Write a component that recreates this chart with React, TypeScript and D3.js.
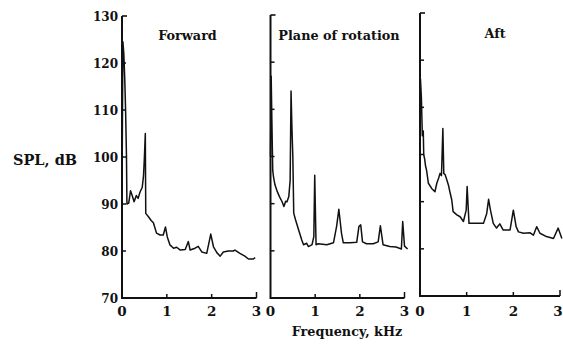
import React from "react";
import * as d3 from "d3";

// ---- data (frequency kHz, SPL dB) ----
const panelTitles = ["Forward", "Plane of rotation", "Aft"];
const yTickValues = [70, 80, 90, 100, 110, 120, 130];
const xTickValues = [0, 1, 2, 3];
const yAxisLabel = "SPL, dB";
const xAxisLabel = "Frequency, kHz";

const forward: [number, number][] = [
  [0, 92], [0.02, 124.5], [0.04, 122], [0.06, 117], [0.08, 110], [0.1, 100], [0.11, 90],
  [0.15, 90.2], [0.19, 92.8], [0.22, 92], [0.27, 90.5], [0.32, 91.8], [0.36, 91.2],
  [0.4, 92.5], [0.45, 93.5], [0.48, 96], [0.5, 100], [0.52, 105], [0.53, 88],
  [0.59, 87.3], [0.65, 86.5], [0.7, 86], [0.77, 83.8], [0.85, 83.4], [0.92, 83.4],
  [0.97, 85.1], [1.01, 83], [1.07, 81.3], [1.15, 80.6], [1.22, 80.8], [1.3, 80.2],
  [1.41, 80.3], [1.48, 82], [1.52, 80.2], [1.63, 80.6], [1.7, 81], [1.78, 79.8],
  [1.89, 79.5], [1.98, 83.6], [2.04, 80.9], [2.12, 79.6], [2.19, 78.9], [2.26, 79.8],
  [2.37, 80], [2.48, 80], [2.52, 80.2], [2.63, 79.5], [2.74, 78.9], [2.82, 78.3],
  [2.93, 78.3], [2.97, 78.6],
];

const planeOfRotation: [number, number][] = [
  [0, 100], [0.015, 117], [0.03, 108], [0.05, 97], [0.07, 95.5], [0.1, 94], [0.15, 92.6],
  [0.2, 91.5], [0.26, 90.4], [0.3, 89.4], [0.34, 90.5], [0.37, 90.4], [0.41, 91.5],
  [0.44, 95], [0.46, 113.9], [0.48, 106], [0.5, 100], [0.52, 88], [0.56, 86.6],
  [0.63, 84.4], [0.7, 82.3], [0.74, 81.3], [0.81, 81.6], [0.85, 80.9], [0.93, 81.3],
  [0.97, 83], [0.99, 96], [1.02, 81.3], [1.07, 81.5], [1.26, 81.3], [1.41, 81.7],
  [1.48, 85.2], [1.53, 88.8], [1.59, 83.7], [1.63, 81.7], [1.78, 81.7], [1.93, 81.8],
  [1.98, 85.2], [2.02, 85.5], [2.06, 81.9], [2.15, 81.5], [2.3, 81.5], [2.41, 81.9],
  [2.46, 85.3], [2.52, 81.3], [2.67, 80.9], [2.81, 80.8], [2.93, 80.4], [2.96, 86.2],
  [3.0, 81], [3.07, 80.4],
];

const aft: [number, number][] = [
  [0, 100], [0.01, 116], [0.03, 112], [0.05, 104], [0.07, 105], [0.08, 100], [0.1, 99],
  [0.12, 97.5], [0.14, 96.7], [0.18, 93.9], [0.25, 92.8], [0.32, 92.1], [0.36, 93.9],
  [0.4, 95], [0.43, 96], [0.46, 95.5], [0.49, 105.5], [0.51, 96], [0.54, 95.7],
  [0.61, 93.5], [0.64, 92.1], [0.68, 90.4], [0.71, 87.9], [0.79, 87.2], [0.86, 86.8],
  [0.93, 85.8], [0.99, 88.2], [1.01, 93.2], [1.05, 85.4], [1.14, 85.4], [1.36, 85.4],
  [1.43, 87.5], [1.47, 90.5], [1.51, 88.2], [1.57, 85.4], [1.64, 84.4], [1.71, 85.3],
  [1.78, 84], [1.93, 84], [2.0, 88.2], [2.06, 84.7], [2.11, 83.6], [2.22, 83.3],
  [2.36, 83.4], [2.43, 82.9], [2.5, 84.7], [2.57, 83.3], [2.71, 82.6], [2.86, 82.2],
  [2.96, 84.4], [3.04, 82.2],
];

const seriesList = [forward, planeOfRotation, aft];

// ---- layout ----
const W = 563;
const H = 346;
const panels = [
  { x0: 122, x1: 256.5, yTop: 16, yBot: 298, titleX: 187.5, titleY: 40 },
  { x0: 270.5, x1: 404.5, yTop: 15, yBot: 298, titleX: 339, titleY: 40 },
  { x0: 420, x1: 560, yTop: 13, yBot: 296, titleX: 495, titleY: 38 },
];
const FONT = "'DejaVu Serif', 'Liberation Serif', serif";
const INK = "#111";

function Panel({ idx }: { idx: number }) {
  const p = panels[idx];
  const x = d3.scaleLinear().domain([0, 3]).range([p.x0, p.x1]);
  const y = d3.scaleLinear().domain([70, 130]).range([p.yBot, p.yTop]);
  const line = d3
    .line<[number, number]>()
    .x((d) => x(d[0]))
    .y((d) => y(d[1]))
    .curve(d3.curveLinear);
  return (
    <g>
      {/* y axis */}
      <line x1={p.x0} x2={p.x0} y1={y(130)} y2={y(70) + 1} stroke={INK} strokeWidth={2} />
      <line x1={p.x0} x2={p.x0 + 5} y1={y(130)} y2={y(130)} stroke={INK} strokeWidth={1.6} />
      {yTickValues.slice(1, -1).map((v) => (
        <line key={v} x1={p.x0} x2={p.x0 + 4} y1={y(v)} y2={y(v)} stroke={INK} strokeWidth={1.5} />
      ))}
      {/* x axis */}
      <line x1={p.x0} x2={x(3)} y1={y(70)} y2={y(70)} stroke={INK} strokeWidth={2} />
      {xTickValues.slice(1).map((v) => (
        <line key={v} x1={x(v)} x2={x(v)} y1={y(70)} y2={y(70) - (v === 3 ? 6 : 4)} stroke={INK} strokeWidth={1.5} />
      ))}
      {/* x tick labels */}
      {xTickValues.map((v) => (
        <text
          key={v}
          x={Math.min(x(v), W - 5)}
          y={316}
          textAnchor="middle"
          fontFamily={FONT}
          fontSize={13.5}
          fontWeight="bold"
          fill={INK}
        >
          {v}
        </text>
      ))}
      {/* y tick labels on first panel */}
      {idx === 0 &&
        yTickValues.map((v) => (
          <text key={v} x={118} y={y(v) + 4.5} textAnchor="end" fontFamily={FONT} fontSize={12} fontWeight="bold" fill={INK}>
            {v}
          </text>
        ))}
      {/* data */}
      <path d={line(seriesList[idx]) || ""} fill="none" stroke={INK} strokeWidth={1.5} strokeLinejoin="round" />
      {/* title */}
      <text x={p.titleX} y={p.titleY} textAnchor="middle" fontFamily={FONT} fontSize={12.8} fontWeight="bold" fill={INK}>
        {panelTitles[idx]}
      </text>
    </g>
  );
}

export default function App() {
  return (
    <svg
      width={W}
      height={H}
      viewBox={`0 0 ${W} ${H}`}
      style={{ position: "absolute", left: 0, top: 0, background: "#fff" }}
    >
      <rect x={0} y={0} width={W} height={H} fill="#fff" />
      {panels.map((_, i) => (
        <Panel key={i} idx={i} />
      ))}
      <text x={13} y={165} fontFamily={FONT} fontSize={14.5} fontWeight="bold" fill={INK}>
        {yAxisLabel}
      </text>
      <text x={347} y={336} textAnchor="middle" fontFamily={FONT} fontSize={12.8} fontWeight="bold" fill={INK}>
        {xAxisLabel}
      </text>
    </svg>
  );
}
